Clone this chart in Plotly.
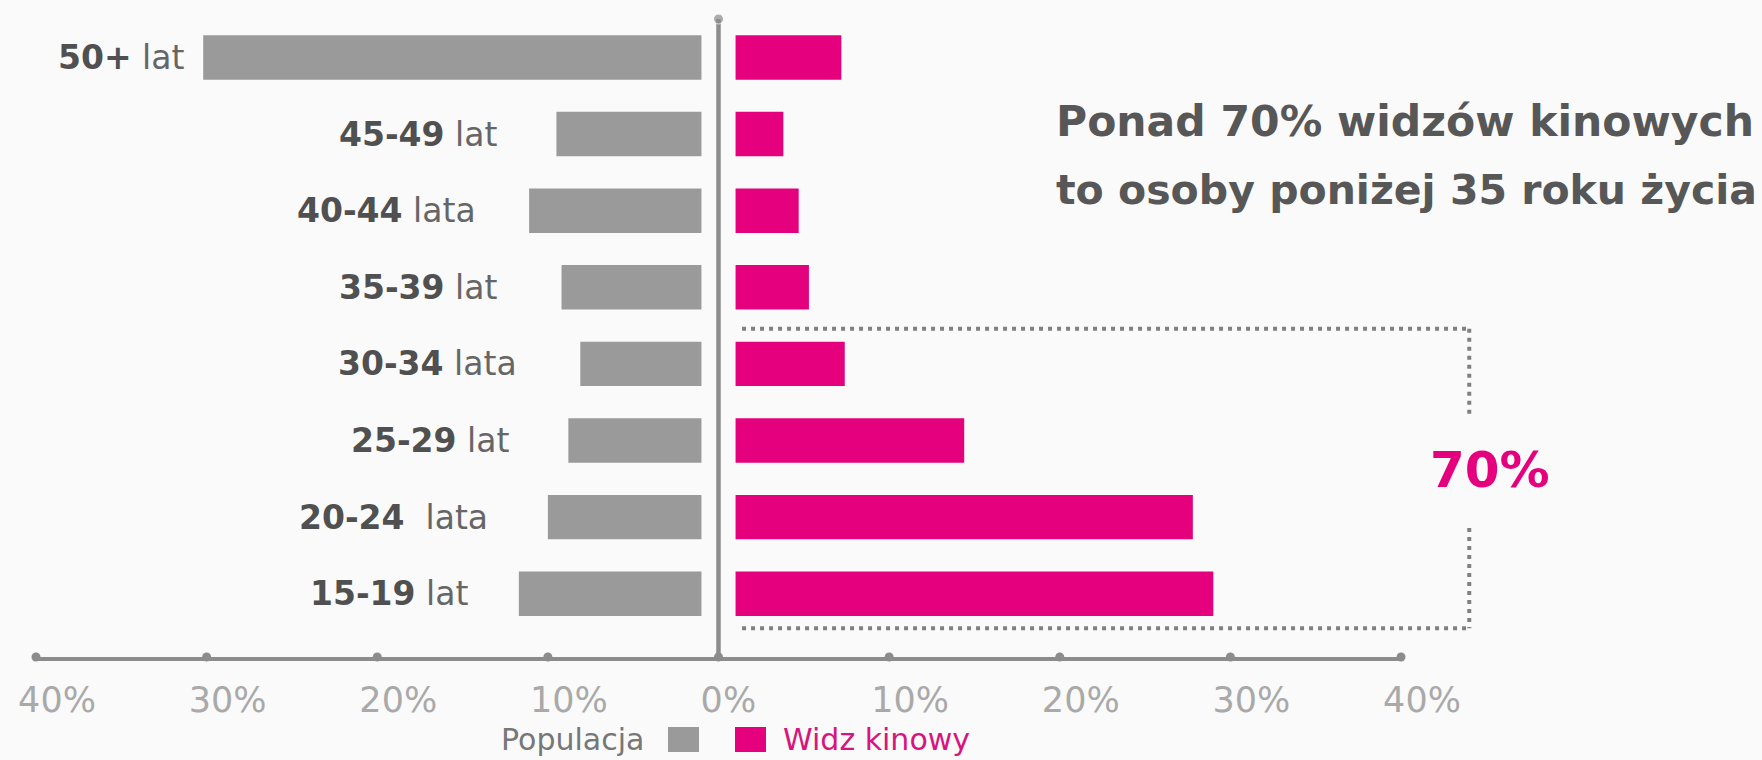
import plotly.graph_objects as go

# ---------------- data ----------------
CATEGORIES = ["15-19", "20-24", "25-29", "30-34", "35-39", "40-44", "45-49", "50+"]
SUFFIXES = ["lat", "\u00a0lata", "lat", "lata", "lat", "lata", "lat", "lat"]
POPULACJA = [11.7, 10.0, 8.8, 8.1, 9.2, 11.1, 9.5, 30.2]
WIDZ_KINOWY = [29.0, 27.8, 14.4, 7.4, 5.3, 4.7, 3.8, 7.2]
TICK_VALUES = [-40, -30, -20, -10, 0, 10, 20, 30, 40]
TICK_LABELS = ["40%", "30%", "20%", "10%", "0%\u2007", "10%", "20%", "30%", "40%"]
HEADLINE = ["Ponad 70% widzów kinowych", "to osoby poniżej 35 roku życia"]
BRACKET_LABEL = "70%"
LEGEND_NAMES = ["Populacja", "Widz kinowy"]

# ---------------- layout constants ----------------
W, H = 1762, 760
ML, MR, MT, MB = 36, 361, 0, 103
PW = W - ML - MR
PH = H - MT - MB
XMIN, XMAX = -40, 40
YMIN, YMAX = -0.826, 7.75
GAP = 1.0
LABEL_GAP_PX = [49, 58, 57, 61, 63, 51, 57, 17]
HEADLINE_SIZES = [42.5, 41]

GREY = "#9a9a9a"
PINK = "#e5007e"
AXIS = "#8c8c8c"
DOT = "#808080"
BG = "#fafafa"
FONT = "DejaVu Sans"


def px_x(px):
    return (px - ML) / PW


def px_y(py):
    return (H - MB - py) / PH


def dx(v):
    return (v - XMIN) / (XMAX - XMIN)


def dy(i):
    return (i - YMIN) / (YMAX - YMIN)


fig = go.Figure()

fig.add_trace(go.Bar(
    y=CATEGORIES, x=[-(v - GAP) for v in POPULACJA], base=-GAP,
    orientation="h", marker=dict(color=GREY, line=dict(width=0)),
    width=0.58, name=LEGEND_NAMES[0], hoverinfo="skip"))
fig.add_trace(go.Bar(
    y=CATEGORIES, x=[v - GAP for v in WIDZ_KINOWY], base=GAP,
    orientation="h", marker=dict(color=PINK, line=dict(width=0)),
    width=0.58, name=LEGEND_NAMES[1], hoverinfo="skip"))

# tick dots on the horizontal axis
fig.add_trace(go.Scatter(
    x=TICK_VALUES, y=[0] * len(TICK_VALUES), yaxis="y2", mode="markers",
    marker=dict(size=9, color=AXIS), cliponaxis=False, hoverinfo="skip"))
# central vertical axis with its top dot
fig.add_trace(go.Scatter(
    x=[0, 0], y=[0, px_y(19)], yaxis="y2", mode="lines+markers",
    line=dict(color=AXIS, width=4.5), marker=dict(size=[0, 10], color=AXIS),
    cliponaxis=False, hoverinfo="skip"))

annotations = []
for cat, suf, v, g in zip(CATEGORIES, SUFFIXES, POPULACJA, LABEL_GAP_PX):
    annotations.append(dict(
        x=-v, y=cat, xref="x", yref="y", xanchor="right", yanchor="middle",
        xshift=-g, showarrow=False,
        text=f"<b>{cat}</b> <span style='color:#666666'>{suf}</span>",
        font=dict(family=FONT, size=33, color="#505050")))

for k, line in enumerate(HEADLINE):
    annotations.append(dict(
        x=px_x(1054), y=px_y(121 + 69 * k), xref="paper", yref="paper",
        xanchor="left", yanchor="middle", showarrow=False,
        text=f"<b>{line}</b>",
        font=dict(family=FONT, size=HEADLINE_SIZES[k], color="#575757")))

annotations.append(dict(
    x=dx(45.2), y=dy(1.62), xref="paper", yref="paper", xanchor="center",
    yanchor="middle", showarrow=False, text=f"<b>{BRACKET_LABEL}</b>",
    font=dict(family=FONT, size=50, color=PINK)))

annotations.append(dict(
    x=px_x(646), y=px_y(739), xref="paper", yref="paper", xanchor="right",
    yanchor="middle", showarrow=False, text=LEGEND_NAMES[0],
    font=dict(family=FONT, size=30, color="#777777")))
annotations.append(dict(
    x=px_x(781), y=px_y(739), xref="paper", yref="paper", xanchor="left",
    yanchor="middle", showarrow=False, text=LEGEND_NAMES[1],
    font=dict(family=FONT, size=30, color="#d6157f")))

dot_line = dict(color=DOT, width=4, dash="4px,5px")
bx0, bx1 = dx(1.38), dx(44.0)
by_top, by_bot = dy(3.46), dy(-0.45)
shapes = [
    dict(type="line", xref="paper", yref="paper", x0=bx0, x1=bx1, y0=by_top, y1=by_top, line=dot_line),
    dict(type="line", xref="paper", yref="paper", x0=bx0, x1=bx1, y0=by_bot, y1=by_bot, line=dot_line),
    dict(type="line", xref="paper", yref="paper", x0=bx1, x1=bx1, y0=by_top, y1=px_y(415), line=dot_line),
    dict(type="line", xref="paper", yref="paper", x0=bx1, x1=bx1, y0=px_y(528), y1=by_bot, line=dot_line),
    # legend swatches
    dict(type="rect", xref="paper", yref="paper", x0=px_x(668), x1=px_x(699), y0=px_y(727), y1=px_y(752),
         fillcolor=GREY, line=dict(width=0)),
    dict(type="rect", xref="paper", yref="paper", x0=px_x(735), x1=px_x(766), y0=px_y(727), y1=px_y(752),
         fillcolor=PINK, line=dict(width=0)),
]

fig.update_layout(
    width=W, height=H, margin=dict(l=ML, r=MR, t=MT, b=MB, pad=0),
    paper_bgcolor=BG, plot_bgcolor=BG, barmode="overlay", showlegend=False,
    annotations=annotations, shapes=shapes,
    xaxis=dict(range=[XMIN, XMAX], tickvals=TICK_VALUES, ticktext=TICK_LABELS,
               showgrid=False, zeroline=False, showline=True, linecolor=AXIS, linewidth=4,
               ticks="", ticklabelshift=21, ticklabelstandoff=9,
               tickfont=dict(family=FONT, size=35, color="#a9a9a9"), fixedrange=True),
    yaxis=dict(type="category", categoryorder="array", categoryarray=CATEGORIES,
               range=[YMIN, YMAX], showticklabels=False, showgrid=False, zeroline=False,
               showline=False, ticks="", fixedrange=True),
    yaxis2=dict(overlaying="y", range=[0, 1], visible=False, fixedrange=True),
)

fig.write_html("out.html", config={"displayModeBar": False})
